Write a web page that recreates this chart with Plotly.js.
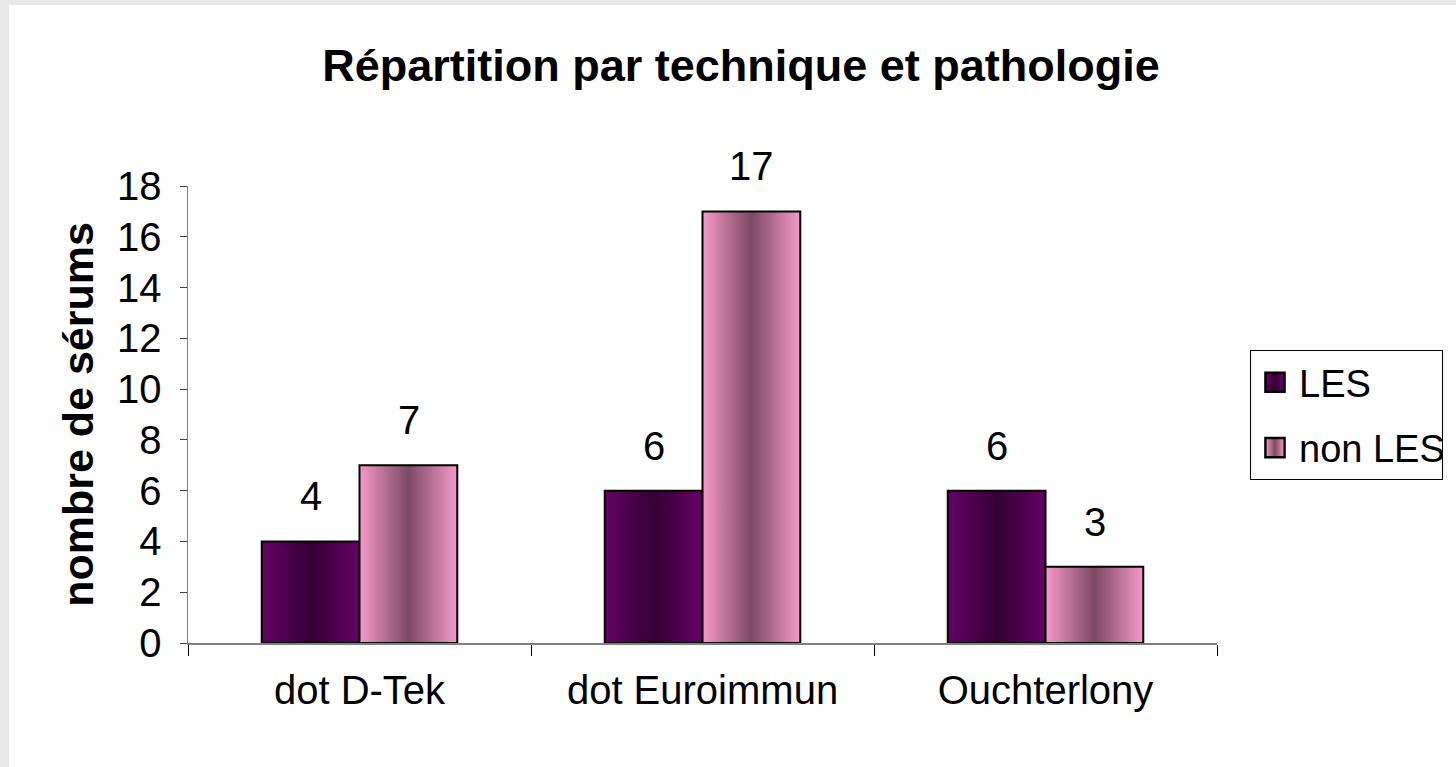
<!DOCTYPE html>
<html>
<head>
<meta charset="utf-8">
<script src="https://cdn.plot.ly/plotly-3.0.1.min.js"></script>
<style>
  html, body { margin: 0; padding: 0; background: #e9e9e9; overflow: hidden; }
  #chart { position: absolute; left: 9px; top: 5px; width: 1447px; height: 762px; background: #fff; }
</style>
</head>
<body>
<div id="chart"></div>
<script>
// ---- data ----
const categories = ["dot D-Tek", "dot Euroimmun", "Ouchterlony"];
const seriesNames = ["LES", "non LES"];
const lesValues = [4, 6, 6];
const nonLesValues = [7, 17, 3];
const yTickValues = [0, 2, 4, 6, 8, 10, 12, 14, 16, 18];

const FONT = "Liberation Sans, Arial, sans-serif";
const seriesColors = ["#660066", "#f799c8"];
const gradStops = [
  ["#660066", "#330033"],
  ["#f799c8", "#7b4a63"]
];

const series = [lesValues, nonLesValues];
const traces = series.map((vals, i) => ({
  type: "bar",
  name: seriesNames[i],
  x: categories,
  y: vals,
  legendgroup: "g" + i,
  marker: { color: seriesColors[i], line: { color: "#000", width: 2 } },
  hoverinfo: "none"
}));

const barHalf = 49;
const annotations = [];
series.forEach((vals, i) => {
  vals.forEach((v, j) => {
    annotations.push({
      x: categories[j], y: v, xref: "x", yref: "y",
      text: String(v), showarrow: false,
      xshift: (i === 0 ? -barHalf : barHalf), yshift: 45,
      yanchor: "middle", xanchor: "center",
      font: { family: FONT, size: 40, color: "#000" }
    });
  });
});

const layout = {
  width: 1447, height: 762,
  paper_bgcolor: "#fff", plot_bgcolor: "#fff",
  margin: { l: 179, r: 239, t: 181, b: 124 },
  barmode: "group", bargap: 0.43, bargroupgap: 0,
  showlegend: true,
  title: {
    text: "<b>Répartition par technique et pathologie</b>",
    x: (741 - 9) / 1447, xanchor: "center",
    y: 1 - 60 / 762, yanchor: "middle",
    font: { family: FONT, size: 45, color: "#000" }
  },
  xaxis: {
    type: "category",
    tickson: "boundaries",
    ticks: "outside", ticklen: 11, tickwidth: 1, tickcolor: "#000",
    showline: true, linecolor: "#808080", linewidth: 1.5,
    showgrid: false, zeroline: false,
    ticklabelstandoff: 11,
    tickfont: { family: FONT, size: 40, color: "#000" }
  },
  yaxis: {
    range: [0, 18], tickvals: yTickValues, ticktext: yTickValues.map(String),
    ticks: "outside", ticklen: 7, tickwidth: 1, tickcolor: "#404040",
    showline: true, linecolor: "#808080", linewidth: 1.5,
    showgrid: false, zeroline: false,
    ticklabelstandoff: 10,
    tickfont: { family: FONT, size: 40, color: "#000" },
    title: {
      text: "<b>nombre de sérums</b>",
      standoff: 10,
      font: { family: FONT, size: 43, color: "#000" }
    }
  },
  legend: {
    xref: "container", yref: "container",
    x: 1241 / 1447, xanchor: "left",
    y: 1 - 345 / 762, yanchor: "top",
    bgcolor: "#fff", bordercolor: "#000", borderwidth: 1,
    tracegroupgap: 13,
    itemwidth: 30,
    font: { family: FONT, size: 38, color: "#000" }
  },
  annotations: annotations
};

function applyGradients() {
  const gd = document.getElementById("chart");
  const svg = gd.querySelector("svg.main-svg");
  if (!svg) return;
  let defs = svg.querySelector("defs");
  if (!defs) { defs = document.createElementNS("http://www.w3.org/2000/svg", "defs"); svg.insertBefore(defs, svg.firstChild); }
  gradStops.forEach((st, i) => {
    const id = "barGrad" + i;
    if (!svg.querySelector("#" + id)) {
      const g = document.createElementNS("http://www.w3.org/2000/svg", "linearGradient");
      g.setAttribute("id", id);
      g.setAttribute("x1", "0"); g.setAttribute("y1", "0");
      g.setAttribute("x2", "1"); g.setAttribute("y2", "0");
      [[0, st[0]], [0.5, st[1]], [1, st[0]]].forEach(([o, c]) => {
        const s = document.createElementNS("http://www.w3.org/2000/svg", "stop");
        s.setAttribute("offset", o); s.setAttribute("stop-color", c);
        g.appendChild(s);
      });
      defs.appendChild(g);
    }
  });
  const barTraces = gd.querySelectorAll(".barlayer .trace");
  barTraces.forEach((t, i) => {
    t.querySelectorAll("path").forEach(p => { p.style.fill = "url(#barGrad" + i + ")"; });
  });
  const legTraces = gd.querySelectorAll(".legend .traces");
  legTraces.forEach((t, i) => {
    t.querySelectorAll(".legendpoints path").forEach(p => {
      p.style.fill = "url(#barGrad" + i + ")";
      p.setAttribute("transform", "translate(24,0) scale(1.6)");
      p.style.strokeWidth = "1.5px";
    });
    const txt = t.querySelector("text.legendtext");
    if (txt) txt.setAttribute("x", "48");
  });
}

Plotly.newPlot("chart", traces, layout, { staticPlot: true, displayModeBar: false }).then(applyGradients);
</script>
</body>
</html>
